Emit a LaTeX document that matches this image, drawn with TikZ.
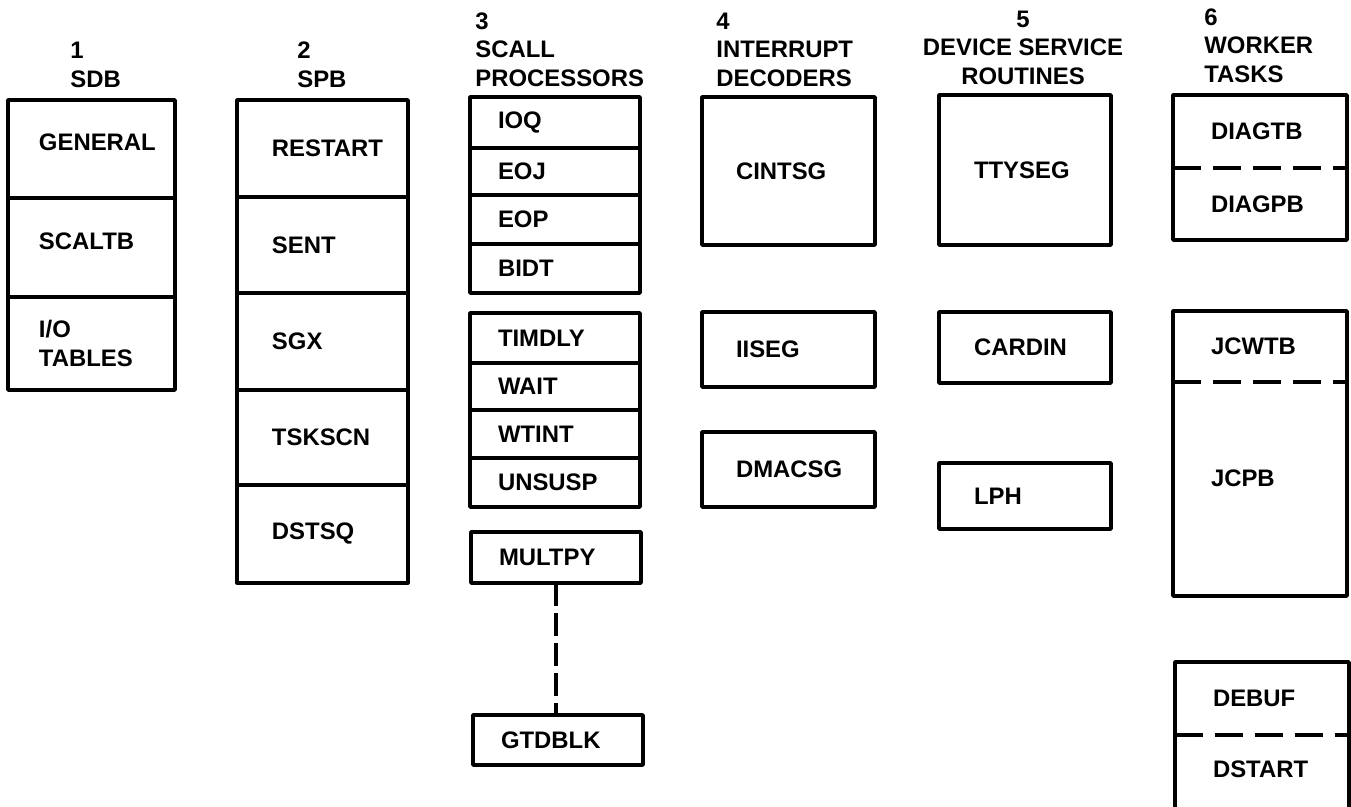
\documentclass[tikz,border=0pt]{standalone}
\usepackage{fontspec}
\setmainfont{Liberation Sans}
\usetikzlibrary{positioning}
\tikzset{
  cell/.style={draw, line width=2pt, outer sep=0pt, anchor=north west, align=left,
    inner xsep=\ix, inner ysep=0pt, text width=\tw},
  half/.style={cell, draw=none},
  head/.style={anchor=south west, align=left, inner sep=0pt},
  frame/.style={line width=2pt},
  dashdiv/.style={line width=2pt, dash pattern=on 0.56cm off 0.24cm},
}
\begin{document}
\begin{tikzpicture}[x=0.02cm, y=-0.02cm, font=\fontsize{13.6pt}{16.2pt}\selectfont\bfseries, line join=round]
\useasboundingbox (0,0) rectangle (1351,806);
\clip (0,0) rectangle (1351,806);
% headings
\node[head] (h1) at (70,88) {1\\SDB};
\node[head] (h2) at (297,88) {2\\SPB};
\node[head] (h3) at (475,87) {3\\SCALL\\PROCESSORS};
\node[head] (h4) at (716,87) {4\\INTERRUPT\\DECODERS};
\node[head, anchor=south, align=center] (h5) at (1023,85) {5\\DEVICE SERVICE\\ROUTINES};
\node[head] (h6) at (1204,83) {6\\WORKER\\TASKS};

% 1 SDB
\def\ix{0.62cm} \def\tw{2.1cm}
\node[cell, minimum height=1.96cm, text depth=0.26cm] (general) at (8,100) {GENERAL};
\node[cell, minimum height=1.98cm, text depth=0.26cm, below=0pt of general] (scaltb) {SCALTB};
\node[cell, minimum height=1.86cm, below=0pt of scaltb] (iotab) {I/O\\TABLES};

% 2 SPB
\def\ix{0.7cm} \def\tw{2.02cm}
\node[cell, minimum height=1.94cm] (restart) at (237,100) {RESTART};
\node[cell, minimum height=1.92cm, below=0pt of restart] (sent) {SENT};
\node[cell, minimum height=1.94cm, below=0pt of sent] (sgx) {SGX};
\node[cell, minimum height=1.90cm, below=0pt of sgx] (tskscn) {TSKSCN};
\node[cell, minimum height=1.96cm, below=0pt of tskscn] (dstsq) {DSTSQ};

% 3 SCALL processors
\def\ix{0.56cm} \def\tw{2.28cm}
\node[cell, minimum height=1.02cm] (ioq) at (470,97) {IOQ};
\node[cell, minimum height=0.94cm, below=0pt of ioq] (eoj) {EOJ};
\node[cell, minimum height=0.98cm, below=0pt of eoj] (eop) {EOP};
\node[cell, minimum height=0.98cm, below=0pt of eop] (bidt) {BIDT};
\node[cell, minimum height=1.00cm] (timdly) at (470,313) {TIMDLY};
\node[cell, minimum height=0.94cm, below=0pt of timdly] (wait) {WAIT};
\node[cell, minimum height=0.96cm, below=0pt of wait] (wtint) {WTINT};
\node[cell, minimum height=0.98cm, below=0pt of wtint] (unsusp) {UNSUSP};
\node[cell, minimum height=1.02cm] (multpy) at (471,532) {MULTPY};
\node[cell, minimum height=1.00cm] (gtdblk) at (473,715) {GTDBLK};
\draw[dashdiv, dash pattern=on 0.46cm off 0.14cm] (multpy.south) -- (multpy.south |- gtdblk.north);

% 4 interrupt decoders
\def\ix{0.68cm} \def\tw{2.1cm}
\node[cell, minimum height=2.96cm] (cintsg) at (702,97) {CINTSG};
\node[cell, minimum height=1.50cm] (iiseg) at (702,312) {IISEG};
\node[cell, minimum height=1.50cm] (dmacsg) at (702,432) {DMACSG};

% 5 device service routines
\def\ix{0.7cm} \def\tw{2.04cm}
\node[cell, minimum height=3.00cm] (ttyseg) at (939,95) {TTYSEG};
\node[cell, minimum height=1.42cm] (cardin) at (939,312) {CARDIN};
\node[cell, minimum height=1.32cm] (lph) at (939,463) {LPH};

% 6 worker tasks
\def\ix{0.76cm} \def\tw{1.96cm}
\node[half, minimum height=1.46cm] (diagtb) at (1173,95) {DIAGTB};
\node[half, minimum height=1.44cm, below=0pt of diagtb] (diagpb) {DIAGPB};
\draw[frame] (diagtb.north west) rectangle (diagpb.south east);
\draw[dashdiv] (diagtb.south west) -- (diagtb.south east);

\node[half, minimum height=1.42cm] (jcwtb) at (1173,311) {JCWTB};
\node[half, minimum height=4.28cm, text depth=0.44cm, below=0pt of jcwtb] (jcpb) {JCPB};
\draw[frame] (jcwtb.north west) rectangle (jcpb.south east);
\draw[dashdiv] (jcwtb.south west) -- (jcwtb.south east);

\node[half, minimum height=1.46cm] (debuf) at (1175,662) {DEBUF};
\node[half, minimum height=1.36cm, below=0pt of debuf] (dstart) {DSTART};
\draw[frame] ([yshift=-1cm]dstart.south west) |- (debuf.north east) -- ([yshift=-1cm]dstart.south east);
\draw[dashdiv] (debuf.south west) -- (debuf.south east);
\end{tikzpicture}
\end{document}
